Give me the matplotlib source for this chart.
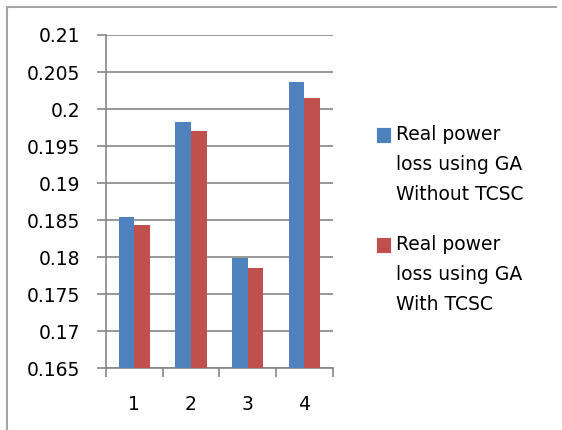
import matplotlib
matplotlib.use("Agg")
import matplotlib.pyplot as plt
from matplotlib.patches import Rectangle
from matplotlib.lines import Line2D
import numpy as np

categories = ["1", "2", "3", "4"]
without_tcsc = [0.1854, 0.1983, 0.1799, 0.2036]
with_tcsc = [0.1843, 0.1970, 0.1785, 0.2015]
series_labels = ["Real power\nloss using GA\nWithout TCSC",
                 "Real power\nloss using GA\nWith TCSC"]
yticks = [0.165, 0.17, 0.175, 0.18, 0.185, 0.19, 0.195, 0.2, 0.205, 0.21]
ytick_labels = ["0.165", "0.17", "0.175", "0.18", "0.185", "0.19", "0.195", "0.2", "0.205", "0.21"]

BLUE = "#4F81BD"
RED = "#C0504D"
GRID = "#868686"
colors = [BLUE, RED]

W, H = 562, 430
fig = plt.figure(figsize=(W / 100, H / 100), dpi=100)
fig.patch.set_facecolor("white")
fig.patch.set_edgecolor("white")
fig.patch.set_linewidth(0)

def fx(px):
    return px / W

def fy(py):
    return (H - py) / H

# outer chart border (only top/left visible in the crop)
fig.add_artist(Line2D([fx(6.7), fx(6.7)], [fy(7.3), fy(429.5)], transform=fig.transFigure,
                      color="#A6A6A6", linewidth=1.5, solid_capstyle="butt"))
fig.add_artist(Line2D([fx(6.0), fx(557.0)], [fy(7.3), fy(7.3)], transform=fig.transFigure,
                      color="#A6A6A6", linewidth=1.5, solid_capstyle="butt"))

ax = fig.add_axes([fx(106), fy(368.3), 226.7 / W, 333.3 / H])
x = np.arange(len(categories))
bw = 0.275
ax.bar(x - bw / 2, without_tcsc, width=bw, color=BLUE, zorder=3)
ax.bar(x + bw / 2, with_tcsc, width=bw, color=RED, zorder=3)

ax.set_ylim(0.165, 0.21)
ax.set_xlim(-0.5, len(categories) - 0.5)
ax.set_yticks(yticks)
ax.set_yticklabels(ytick_labels)
ax.yaxis.grid(True, color=GRID, linewidth=1.2, zorder=0)
ax.set_axisbelow(True)

ax.set_xticks(x)
ax.set_xticklabels(categories)
ax.set_xticks(np.arange(-0.5, len(categories)), minor=True)
ax.tick_params(axis="x", which="major", length=0, pad=19, labelsize=13.5)
ax.tick_params(axis="x", which="minor", length=6.5, width=1.2, color=GRID, direction="out")
ax.tick_params(axis="y", length=6.5, width=1.2, color=GRID, pad=12, labelsize=13.5)

for s in ["top", "right"]:
    ax.spines[s].set_visible(False)
for s in ["left", "bottom"]:
    ax.spines[s].set_color(GRID)
    ax.spines[s].set_linewidth(1.2)

# legend (manual, to match Excel's layout)
entry_top = [135, 245]
line_gap = 30
sq = 15.5
for label, col, y0 in zip(series_labels, colors, entry_top):
    fig.add_artist(Rectangle((fx(375.5), fy(y0 + sq / 2)), sq / W, sq / H,
                             transform=fig.transFigure, facecolor=col,
                             edgecolor="white", linewidth=0.6))
    for i, line in enumerate(label.split("\n")):
        fig.text(fx(396.5), fy(y0 + i * line_gap), line, fontsize=13.5,
                 ha="left", va="center", color="black")

fig.savefig("out.png", dpi=100)
